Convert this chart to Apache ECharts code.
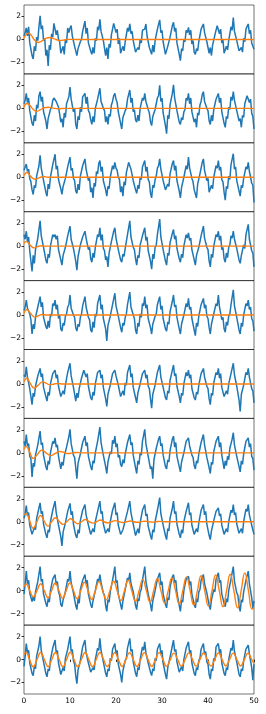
<!DOCTYPE html>
<html><head><meta charset="utf-8">
<script src="https://cdn.jsdelivr.net/npm/echarts@6/dist/echarts.min.js"></script>
<style>html,body{margin:0;padding:0;background:#fff}#c{width:266px;height:714px}</style>
</head><body><div id="c"></div>
<script>
const STEP = 0.25;
const xTicks = [0, 10, 20, 30, 40, 50];
const yTicks = [-2, 0, 2];

const blue1 = [0.3,0.6,
1.0,0.3,1.1,-0.3,-0.2,-1.4,-1.7,-0.6,-1.0,0.2,-0.1,1.1,
2.05,0.9,1.2,-0.1,0.1,-1.4,-0.9,-2.3,-0.5,-0.9,0.5,0.2,1.4,
1.3,0.4,0.8,0.0,-0.2,-1.2,-1.3,-0.6,-1.3,0.0,-0.3,1.0,0.6,
1.0,1.2,0.3,0.2,-0.6,-0.7,-1.4,-0.8,-0.9,-0.2,0.0,0.7,0.8,
1.6,0.5,1.0,-0.3,-0.3,-1.0,-1.3,-0.7,-1.2,0.1,-0.1,1.1,0.8,
1.75,0.7,0.7,-0.1,-0.2,-1.4,-0.7,-1.7,-0.4,-0.7,0.4,0.3,1.4,
1.5,0.6,0.9,-0.4,0.1,-1.2,-1.1,-0.6,-1.0,-0.2,-0.1,1.0,0.7,
1.35,0.5,0.7,-0.1,-0.2,-1.1,-1.1,-0.7,-0.9,0.0,-0.3,0.8,0.8,
0.9,1.35,0.3,0.3,-0.7,-0.6,-1.3,-0.5,-1.1,-0.1,0.0,0.9,1.0,
1.7,0.6,0.8,-0.2,-0.3,-1.3,-1.4,-0.6,-0.7,0.2,0.3,1.2,
1.5,0.7,1.0,-0.3,-0.2,-1.3,-1.85,-0.8,-1.0,0.0,-0.2,0.8,0.6,
1.05,0.4,0.8,-0.4,-0.1,-1.1,-1.3,-0.8,-1.0,-0.2,-0.1,0.9,0.8,
1.35,0.6,0.7,-0.2,-0.3,-1.2,-0.7,-1.4,-0.5,-0.6,0.4,0.4,1.2,
1.2,0.5,0.9,-0.3,0.0,-1.2,-1.1,-0.6,-0.9,-0.1,-0.1,1.1,0.8,
1.9,0.7,0.8,-0.1,-0.1,-1.0,-1.1,-0.7,-1.1,0.1,-0.2,0.9,0.9,
1.35,0.5,0.8,-0.3,-0.2,-0.85];

const blue2 = [0.4,0.7,
1.3,0.5,0.9,-0.2,-0.1,-1.3,-1.5,-0.6,-1.1,0.3,0.0,1.1,
1.45,0.6,1.0,-0.3,-0.3,-1.1,-1.8,-0.9,-0.9,-0.1,0.1,0.7,0.9,
1.0,0.6,0.5,0.1,-0.5,-1.2,-0.9,-1.65,-0.4,-0.8,0.4,0.5,1.0,
1.85,0.8,0.8,-0.3,0.0,-1.4,-1.8,-0.7,-1.0,0.1,-0.3,1.0,1.0,
1.3,0.4,1.0,-0.2,-0.4,-1.0,-1.4,-0.7,-1.2,0.0,0.1,0.8,0.8,
1.75,0.6,0.7,0.0,-0.2,-1.2,-0.7,-1.4,-0.5,-0.7,0.3,0.6,1.1,
1.3,0.8,0.5,-0.3,-0.2,-1.3,-1.8,-0.8,-0.8,-0.2,0.0,0.8,0.9,
1.6,0.5,0.9,-0.3,-0.1,-1.0,-1.2,-0.6,-1.1,0.0,-0.1,0.9,0.7,
1.3,0.6,0.7,-0.1,-0.4,-1.2,-1.5,-0.7,-0.8,-0.1,-0.1,0.9,1.1,
2.0,0.6,0.9,-0.4,-0.3,-1.5,-2.2,-0.6,-0.9,0.3,0.2,1.3,
2.05,0.9,0.9,-0.2,-0.1,-1.2,-1.4,-0.8,-1.0,-0.3,-0.1,0.9,0.7,
1.3,0.4,0.9,-0.3,-0.4,-1.2,-0.9,-1.65,-0.4,-0.6,0.3,0.6,1.2,
1.45,0.6,0.6,0.0,-0.2,-1.1,-1.4,-0.6,-1.1,-0.1,0.0,0.8,0.9,
1.3,0.5,0.9,-0.3,-0.3,-1.3,-1.65,-0.7,-0.9,0.1,-0.1,1.0,0.7,
1.45,0.7,0.7,-0.2,-0.1,-1.1,-0.9,-1.65,-0.6,-0.8,0.4,0.3,1.1,
1.0,0.5,0.8,-0.4,-0.7,-1.8];

const blue3 = [0.6,0.7,
1.15,0.5,0.7,-0.1,-0.4,-1.1,-1.5,-0.7,-0.9,0.1,0.2,1.0,
1.9,0.8,0.8,-0.3,-0.2,-1.3,-1.65,-0.6,-1.0,0.0,-0.1,1.1,1.0,
2.0,0.7,1.0,-0.2,-0.2,-1.0,-1.5,-0.8,-0.9,-0.1,-0.2,0.9,0.8,
1.75,0.6,0.8,-0.1,-0.3,-1.2,-1.4,-0.6,-1.1,0.1,0.0,1.0,0.9,
1.6,0.7,0.7,-0.3,-0.1,-1.3,-0.9,-1.8,-0.5,-0.8,0.5,0.3,1.2,
1.45,0.5,0.9,-0.3,-0.4,-1.1,-1.65,-0.8,-1.0,0.0,-0.1,1.0,0.7,
1.3,0.8,0.6,0.0,-0.2,-1.3,-0.8,-1.65,-0.4,-0.7,0.4,0.4,1.3,
1.0,0.7,0.8,-0.3,-0.3,-1.1,-1.4,-0.7,-1.0,0.0,-0.2,0.9,0.8,
1.45,0.5,0.9,-0.2,-0.4,-1.4,-1.8,-0.7,-0.9,-0.2,0.1,0.8,1.0,
1.6,0.7,0.7,-0.3,-0.2,-1.1,-1.2,-0.6,-0.8,0.3,0.2,1.2,
1.45,0.6,1.0,-0.3,-0.3,-1.2,-1.8,-0.9,-0.9,0.0,0.0,1.0,0.7,
1.75,0.8,0.8,-0.1,-0.4,-1.1,-1.0,-1.8,-0.6,-0.7,0.3,0.4,1.3,
1.6,0.6,0.7,-0.3,-0.1,-1.3,-1.4,-0.7,-1.0,0.0,0.1,1.0,0.8,
1.45,0.6,0.9,-0.2,-0.4,-1.3,-2.0,-0.8,-1.0,0.1,-0.2,1.1,1.0,
2.05,0.7,0.9,-0.3,-0.2,-1.2,-1.65,-0.7,-0.9,-0.1,0.0,0.9,0.7,
1.3,0.5,0.6,-0.5,-0.7,-2.2];

const blue4 = [1.0,0.6,
1.3,0.4,0.8,-0.4,-0.4,-2.2,-0.8,-1.5,-0.3,-0.4,0.7,0.8,
2.2,0.9,0.9,-0.1,-0.2,-1.2,-1.5,-0.7,-1.0,0.0,-0.1,1.0,0.8,
1.0,0.6,0.9,-0.3,-0.3,-1.2,-1.65,-0.8,-0.9,-0.1,-0.1,0.9,0.9,
1.75,0.6,0.7,-0.2,-0.3,-1.3,-2.1,-0.9,-1.0,0.1,0.0,0.8,0.8,
1.3,0.7,0.8,-0.3,-0.1,-1.1,-1.4,-0.6,-1.0,-0.1,-0.1,1.0,0.8,
1.6,0.5,1.0,-0.2,-0.4,-1.2,-0.9,-1.8,-0.6,-0.6,0.4,0.4,1.3,
1.6,0.7,0.7,-0.3,-0.2,-1.2,-1.4,-0.7,-0.9,-0.2,-0.2,1.0,1.0,
2.2,0.8,0.9,-0.1,-0.3,-1.1,-1.65,-0.8,-1.0,0.1,0.0,0.9,0.8,
1.6,0.5,0.8,-0.4,-0.3,-1.3,-2.0,-0.7,-1.1,-0.1,0.1,1.0,1.0,
2.35,0.8,0.9,-0.3,-0.2,-1.3,-1.65,-0.6,-0.8,0.3,0.3,1.1,
1.45,0.6,0.9,-0.2,-0.2,-1.1,-1.4,-0.7,-1.0,0.0,-0.1,1.0,0.7,
1.15,0.5,0.7,-0.3,-0.4,-1.2,-1.65,-0.8,-0.9,-0.1,0.0,0.9,0.9,
1.75,0.7,0.8,-0.1,-0.3,-1.3,-1.8,-0.7,-1.0,0.0,-0.1,1.0,0.8,
1.3,0.5,0.9,-0.3,-0.1,-1.1,-1.4,-0.6,-1.0,-0.1,0.1,0.9,0.7,
1.3,0.6,0.7,-0.2,-0.3,-1.2,-1.5,-0.8,-0.9,0.1,-0.2,1.0,1.0,
1.9,0.6,0.7,-0.4,-0.6,-1.8];

const blue5 = [0.4,0.7,
1.3,0.6,0.5,0.1,-0.4,-1.65,-0.8,-1.2,-0.2,-0.3,0.7,0.7,
1.6,0.7,1.1,-0.2,-0.2,-1.0,-1.2,-0.5,-1.1,0.1,-0.1,1.0,0.8,
1.3,0.5,0.9,-0.3,0.0,-1.2,-1.4,-0.7,-0.9,-0.1,0.1,0.7,0.9,
1.75,0.6,0.7,0.0,-0.2,-1.1,-1.4,-0.8,-1.0,-0.2,0.1,0.8,0.8,
1.6,0.7,0.8,-0.2,-0.4,-1.3,-1.5,-0.6,-1.1,0.1,-0.1,1.0,0.9,
1.75,0.5,0.9,-0.3,-0.3,-1.2,-2.25,-0.9,-1.0,-0.1,0.0,0.9,0.8,
1.9,0.8,0.8,-0.1,-0.2,-1.1,-1.5,-0.7,-0.9,-0.2,0.1,0.9,1.0,
2.0,0.7,0.7,0.0,-0.3,-1.3,-1.65,-0.7,-1.0,0.1,-0.2,1.0,0.8,
1.6,0.6,0.9,-0.3,-0.4,-1.1,-1.65,-0.8,-0.9,-0.1,0.1,0.9,0.9,
1.6,0.5,0.8,-0.3,-0.3,-1.2,-1.4,-0.6,-0.8,0.3,0.2,1.2,
1.75,0.7,0.9,-0.2,-0.2,-1.2,-1.65,-0.8,-0.9,0.0,0.0,1.0,0.7,
1.45,0.5,0.7,-0.3,-0.4,-1.3,-1.8,-0.7,-1.0,-0.1,-0.1,0.9,0.9,
1.45,0.6,0.9,-0.1,-0.3,-1.1,-1.65,-0.8,-0.9,0.1,0.0,1.0,0.8,
1.75,0.7,0.8,-0.4,-0.2,-1.2,-1.5,-0.6,-0.9,-0.1,0.1,0.9,1.0,
2.2,0.8,0.8,-0.2,-0.3,-1.3,-1.65,-0.7,-1.0,0.0,-0.1,1.0,0.8,
1.3,0.5,0.7,-0.3,-0.5,-1.4];

const blue6 = [0.8,0.6,
1.5,0.6,0.7,-0.4,-0.4,-1.8,-0.8,-1.1,-0.2,-0.3,0.7,0.7,
1.35,0.6,0.9,-0.3,-0.2,-1.1,-1.5,-0.7,-1.0,0.0,0.0,0.9,0.8,
1.2,0.5,0.8,-0.2,-0.3,-1.1,-1.25,-0.6,-0.9,-0.1,-0.1,1.0,0.9,
1.8,0.7,0.7,-0.3,-0.4,-1.5,-0.8,-1.2,-0.4,-0.5,0.5,0.4,1.2,
1.35,0.6,0.9,-0.2,-0.2,-1.2,-1.4,-0.7,-1.0,0.0,-0.1,1.0,0.9,
1.2,0.5,0.8,-0.3,-0.3,-1.3,-1.95,-0.9,-0.9,-0.1,0.0,0.9,0.8,
1.2,0.7,0.7,-0.1,-0.2,-1.1,-1.25,-0.6,-1.0,0.1,-0.1,1.0,1.0,
1.65,0.6,0.9,-0.3,-0.3,-1.2,-1.65,-0.8,-0.9,0.0,0.1,0.9,0.8,
1.2,0.5,0.8,-0.2,-0.4,-1.3,-2.1,-0.9,-1.0,-0.1,-0.2,1.0,0.9,
1.65,0.6,0.7,-0.3,-0.3,-1.2,-1.4,-0.6,-0.8,0.3,0.3,1.2,
1.65,0.7,0.9,-0.2,-0.2,-1.1,-1.65,-0.8,-1.0,0.0,0.0,1.0,0.7,
1.2,0.5,0.8,-0.4,-0.3,-1.2,-1.4,-0.7,-0.9,-0.1,-0.1,0.9,0.9,
1.35,0.6,0.7,-0.2,-0.4,-1.3,-1.8,-0.8,-1.0,0.1,0.1,1.0,0.8,
1.35,0.5,0.9,-0.3,-0.2,-1.1,-1.25,-0.6,-0.9,0.0,-0.1,0.9,1.0,
1.8,0.8,0.8,-0.2,-0.3,-1.4,-2.4,-0.9,-1.0,-0.1,0.0,1.0,0.8,
1.35,0.6,0.7,-0.4,-0.6,-1.65];

const blue7 = [1.0,0.6,
1.6,0.6,0.8,-0.3,-0.5,-2.1,-0.9,-1.2,-0.2,-0.3,0.7,0.8,
1.9,0.7,0.9,-0.2,-0.2,-1.2,-1.5,-0.7,-1.0,0.0,0.0,1.0,0.8,
1.3,0.5,0.7,-0.3,-0.3,-1.4,-0.8,-1.1,-0.3,-0.4,0.5,0.6,1.4,
2.05,0.8,0.8,-0.2,-0.4,-1.3,-2.25,-0.9,-1.0,-0.1,-0.1,0.9,0.8,
1.45,0.6,0.9,-0.3,-0.2,-1.2,-1.5,-0.7,-0.9,0.0,0.0,1.0,0.9,
2.25,0.9,0.8,-0.2,-0.3,-1.2,-1.8,-0.8,-0.9,0.1,-0.1,1.1,0.8,
1.45,0.5,0.8,-0.4,-0.2,-1.0,-1.2,-0.6,-0.9,-0.1,0.0,0.9,0.9,
1.6,0.7,0.9,-0.2,-0.3,-1.3,-1.8,-0.7,-1.0,0.0,-0.2,1.0,1.0,
2.05,0.8,0.7,-0.3,-0.4,-1.4,-1.2,-2.25,-0.6,-0.7,0.4,0.4,1.2,
1.45,0.6,0.8,-0.2,-0.3,-1.2,-1.4,-0.6,-0.8,0.2,0.3,1.2,
1.45,0.5,0.9,-0.3,-0.2,-1.2,-1.65,-0.8,-0.9,0.0,0.0,1.0,0.9,
1.3,0.6,0.7,-0.2,-0.4,-1.1,-1.4,-0.7,-0.9,-0.1,-0.1,0.9,0.8,
1.6,0.7,0.8,-0.4,-0.3,-1.3,-1.8,-0.8,-1.0,0.1,0.1,1.0,1.0,
1.45,0.5,0.9,-0.2,-0.2,-1.4,-0.7,-1.1,-0.3,-0.6,0.4,0.4,1.2,
1.75,0.7,0.8,-0.3,-0.3,-1.2,-1.65,-0.7,-1.0,-0.1,0.0,1.0,0.9,
1.3,0.5,0.8,-0.3,-0.5,-1.5];

const blue8 = [0.3,0.7,
1.4,0.5,0.8,-0.3,-0.3,-1.1,-1.1,-0.5,-0.7,0.3,0.2,1.2,
1.65,0.7,0.9,-0.2,-0.2,-1.1,-1.4,-0.7,-0.9,0.0,0.0,1.0,0.9,
1.8,0.8,0.8,-0.3,-0.4,-1.3,-2.1,-0.9,-0.9,-0.1,-0.1,0.9,0.8,
1.6,0.6,0.9,-0.2,-0.2,-1.2,-1.4,-0.7,-1.0,0.1,0.1,1.0,0.9,
1.5,0.6,0.7,-0.3,-0.3,-1.1,-1.25,-0.6,-0.9,0.0,0.0,0.9,0.8,
1.8,0.7,0.9,-0.2,-0.2,-1.0,-1.1,-0.6,-0.9,0.0,-0.1,1.0,1.0,
1.65,0.6,0.8,-0.3,-0.3,-1.1,-1.25,-0.7,-0.8,0.1,0.1,0.9,0.8,
1.8,0.8,0.9,-0.2,-0.2,-1.2,-1.25,-0.6,-1.0,-0.1,0.0,1.0,0.9,
1.5,0.5,0.7,-0.4,-0.4,-1.2,-1.55,-0.7,-0.9,0.0,-0.1,1.0,1.0,
2.1,0.7,0.8,-0.3,-0.3,-1.2,-1.55,-0.6,-0.8,0.3,0.3,1.2,
1.8,0.7,0.9,-0.2,-0.2,-1.1,-1.4,-0.7,-1.0,0.0,0.0,0.9,0.8,
1.65,0.6,0.8,-0.3,-0.3,-1.1,-1.25,-0.6,-0.9,-0.1,-0.1,1.0,0.9,
1.5,0.6,0.9,-0.2,-0.3,-1.2,-1.55,-0.8,-0.9,0.1,0.0,0.9,0.8,
1.2,0.5,0.7,-0.3,-0.2,-1.1,-1.25,-0.6,-0.9,0.0,0.1,1.0,0.8,
1.5,0.6,0.8,-0.2,-0.2,-1.0,-1.1,-0.6,-1.0,0.0,-0.1,1.1,0.9,
1.5,0.6,0.7,-0.3,-0.4,-1.1];

const blue9 = [-0.3,0.6,
1.7,0.6,0.9,-0.2,-0.3,-0.95,-0.5,-0.9,-0.1,-0.2,0.8,0.8,
2.1,0.8,1.0,-0.3,-0.2,-1.1,-1.4,-0.7,-1.0,0.0,0.0,1.0,1.0,
1.4,0.5,0.8,-0.1,-0.4,-1.2,-1.4,-0.8,-0.9,-0.1,-0.1,1.0,0.8,
1.7,0.7,0.7,-0.2,-0.3,-1.3,-1.65,-0.7,-1.1,0.1,0.1,0.9,0.9,
1.4,0.6,0.9,-0.3,-0.2,-1.2,-1.5,-0.9,-1.0,0.0,0.0,1.0,0.8,
1.4,0.7,0.8,-0.2,-0.4,-1.3,-1.8,-0.8,-1.0,-0.1,-0.1,0.9,1.0,
2.1,0.7,0.9,-0.3,-0.3,-1.2,-1.65,-0.9,-1.0,0.1,0.0,1.1,0.9,
1.55,0.6,0.7,-0.1,-0.2,-1.3,-1.65,-0.7,-0.9,-0.1,0.1,0.9,0.8,
2.1,0.8,0.9,-0.3,-0.4,-1.2,-1.8,-0.9,-1.0,0.0,-0.1,1.0,1.0,
1.55,0.5,0.8,-0.3,-0.4,-1.2,-1.5,-0.6,-0.8,0.3,0.3,1.2,
1.4,0.7,0.9,-0.2,-0.3,-1.3,-1.8,-0.8,-1.0,0.0,0.0,1.0,0.9,
1.25,0.5,0.8,-0.3,-0.4,-1.2,-1.5,-0.7,-1.0,-0.1,0.1,0.9,0.8,
1.4,0.6,0.7,-0.2,-0.3,-1.3,-1.65,-0.8,-0.9,0.1,-0.1,1.0,0.9,
1.55,0.7,0.9,-0.3,-0.2,-1.1,-1.4,-0.7,-1.0,0.0,0.0,1.0,1.0,
2.1,0.8,0.8,-0.2,-0.4,-1.4,-1.8,-0.8,-1.0,-0.1,0.0,0.9,0.8,
1.7,0.6,0.6,-0.6,-1.5,-0.9];

const blue10 = [-0.6,0.3,
1.4,0.6,0.8,-0.3,-0.4,-1.2,-1.4,-0.6,-0.8,0.3,0.2,1.2,
2.0,0.8,0.9,-0.2,-0.3,-1.2,-1.5,-0.8,-1.0,0.0,0.0,1.0,0.9,
1.7,0.6,0.8,-0.3,-0.2,-1.3,-1.4,-0.7,-1.0,0.1,0.1,0.9,0.8,
2.0,0.7,0.9,-0.1,-0.4,-1.4,-2.1,-0.9,-0.9,-0.1,-0.1,1.1,1.0,
1.7,0.6,0.7,-0.3,-0.3,-1.1,-1.25,-0.7,-0.9,0.0,0.0,1.0,0.8,
1.85,0.8,0.9,-0.2,-0.2,-1.2,-1.5,-0.8,-1.0,0.1,-0.1,0.9,0.9,
1.4,0.5,0.8,-0.4,-0.4,-1.3,-2.0,-1.0,-0.9,-0.1,0.1,1.0,1.0,
1.85,0.7,0.9,-0.2,-0.3,-1.2,-1.5,-0.7,-0.9,0.0,0.0,1.1,0.8,
1.55,0.6,0.7,-0.3,-0.2,-1.1,-1.4,-0.8,-1.0,0.1,-0.1,0.9,0.9,
1.4,0.5,0.8,-0.3,-0.4,-1.3,-1.7,-0.7,-0.8,0.2,0.3,1.2,
1.7,0.7,0.9,-0.2,-0.3,-1.1,-1.25,-0.6,-1.0,0.0,0.0,1.0,0.9,
1.55,0.6,0.8,-0.3,-0.2,-1.2,-1.4,-0.7,-0.9,-0.1,0.1,0.9,0.8,
1.4,0.5,0.7,-0.2,-0.4,-1.3,-1.7,-0.8,-1.0,0.1,-0.1,1.1,1.0,
1.4,0.6,0.9,-0.3,-0.3,-1.2,-1.4,-0.7,-0.9,0.0,0.0,1.0,0.8,
1.7,0.7,0.8,-0.2,-0.2,-1.3,-1.5,-0.8,-1.0,-0.1,0.0,0.9,0.9,
1.25,0.5,0.5,-0.7,-1.8,-0.4];

const orange1 = [[0,0.1],[0.4,0.4],[0.95,0.55],[1.6,0.35],[2.2,0.0],[3.1,-0.26],[4.0,-0.1],[4.6,0.05],[5.6,0.17],[6.6,0.05],[7.8,-0.09],[9,-0.02],[10,0.01],[11,0],[50,0]];
const orange2 = [[0,0.1],[0.6,0.42],[1.4,0.2],[2.0,-0.1],[2.75,-0.25],[3.6,-0.12],[4.4,0.05],[5.3,0.1],[6.3,0.02],[7.5,-0.03],[9,0],[50,0]];
const orange3 = [[0,0.15],[0.6,0.42],[1.4,0.1],[2.4,-0.18],[3.3,-0.05],[4.2,0.06],[5.2,0],[50,0]];
const orange4 = [[0,0.2],[0.45,0.42],[1.2,0.15],[2.2,-0.15],[3.0,-0.03],[3.6,0.02],[4.5,0],[50,0]];
const orange5 = [[0,0.15],[0.6,0.48],[1.4,0.15],[2.4,-0.18],[3.2,-0.05],[3.9,0.05],[5,0],[50,0]];
const orange6 = [[0,0.2],[0.6,0.5],[1.3,0.1],[2.2,-0.36],[3.1,-0.1],[4.05,0.18],[4.9,0.05],[5.65,-0.08],[6.6,0],[7.3,0.03],[8.5,0],[50,0]];
const orange7 = [[0,0.3],[0.45,0.57],[1.2,0.1],[2.0,-0.48],[2.9,-0.15],[3.85,0.24],[4.8,0],[5.8,-0.24],[6.8,-0.05],[7.8,0.12],[8.7,0.03],[9.6,-0.06],[10.5,0],[11.5,0.03],[12.5,0],[50,0]];
const orange8 = [[0,0.6],[0.45,0.73],[1.2,0.1],[2.0,-0.58],[2.8,0],[3.6,0.55],[4.4,0.05],[5.2,-0.38],[6.0,0],[6.85,0.35],[7.7,0.02],[8.5,-0.23],[9.3,0],[10.1,0.26],[10.9,0.03],[11.7,-0.17],[12.5,0],[13.35,0.2],[14.2,0],[15.0,-0.12],[15.8,0],[16.6,0.15],[17.4,0],[18.2,-0.09],[19.0,0],[19.85,0.1],[20.7,0],[21.5,-0.07],[22.3,0],[23.1,0.07],[23.9,0],[24.7,-0.05],[25.5,0],[26.35,0.05],[27.2,0],[28.0,-0.03],[28.8,0],[29.6,0.03],[30.5,0],[50,0]];
const orange9 = [[0,0.36],
[0.45,0.58],[1.24,0],[2.04,-0.55],[2.83,0],
[3.62,0.6],[4.41,0],[5.21,-0.62],[6.0,0],
[6.79,0.67],[7.58,0],[8.38,-0.65],[9.17,0],
[9.96,0.67],[10.75,0],[11.55,-0.7],[12.34,0],
[13.13,0.73],[13.92,0],[14.72,-0.75],[15.51,0],
[16.3,0.79],[17.09,0],[17.89,-0.8],[18.68,0],
[19.47,0.82],[20.26,0],[21.06,-0.86],[21.85,0],
[22.64,0.9],[23.43,0],[24.23,-0.93],[25.02,0],
[25.81,0.96],[26.6,0],[27.4,-1.0],[28.19,0],
[28.98,1.05],[29.77,0],[30.57,-1.07],[31.36,0],
[32.15,1.1],[32.94,0],[33.74,-1.15],[34.53,0],
[35.32,1.2],[36.11,0],[36.91,-1.25],[37.7,0],
[38.49,1.3],[39.28,0],[40.08,-1.33],[40.87,0],
[41.66,1.37],[42.45,0],[43.25,-1.4],[44.04,0],
[44.83,1.43],[45.62,0],[46.42,-1.5],[47.21,0],
[48.0,1.55],[48.79,0],[49.59,-1.6],[50,-1.5]];
const orange10 = [[0,0.44],
[0.4,0.65],[1.2,0],[2.01,-0.63],[2.82,0],
[3.62,0.62],[4.43,0],[5.23,-0.62],[6.04,0],
[6.84,0.62],[7.65,0],[8.45,-0.62],[9.26,0],
[10.06,0.63],[10.87,0],[11.67,-0.62],[12.48,0],
[13.28,0.62],[14.09,0],[14.89,-0.62],[15.7,0],
[16.5,0.62],[17.31,0],[18.11,-0.61],[18.92,0],
[19.72,0.6],[20.53,0],[21.33,-0.6],[22.14,0],
[22.94,0.6],[23.75,0],[24.55,-0.6],[25.36,0],
[26.16,0.6],[26.97,0],[27.77,-0.6],[28.58,0],
[29.38,0.6],[30.19,0],[30.99,-0.59],[31.8,0],
[32.6,0.58],[33.41,0],[34.21,-0.58],[35.02,0],
[35.82,0.58],[36.63,0],[37.43,-0.58],[38.24,0],
[39.04,0.57],[39.85,0],[40.65,-0.57],[41.46,0],
[42.26,0.57],[43.07,0],[43.87,-0.56],[44.68,0],
[45.48,0.56],[46.29,0],[47.09,-0.56],[47.9,0],
[48.7,0.55],[49.51,0],[50,-0.35]];

const blues = [blue1,blue2,blue3,blue4,blue5,blue6,blue7,blue8,blue9,blue10];
const oranges = [orange1,orange2,orange3,orange4,orange5,orange6,orange7,orange8,orange9,orange10];

const N = 10, TOP = 5, H = 68.9, LEFT = 24, RIGHT = 12;
const FONT = 'DejaVu Sans';
const grid = [], xAxis = [], yAxis = [], series = [];
for (let k = 0; k < N; k++) {
  const last = k === N - 1;
  grid.push({left: LEFT, right: RIGHT, top: TOP + H * k, height: H, show: true,
    borderColor: 'rgba(0,0,0,0.55)', borderWidth: 1, backgroundColor: 'transparent'});
  xAxis.push({type: 'value', gridIndex: k, min: 0, max: 50, interval: 10,
    axisLine: {show: false}, splitLine: {show: false},
    axisTick: {show: last, length: 2.5, lineStyle: {color: '#000', width: 0.8}},
    axisLabel: {show: last, customValues: xTicks, fontSize: 7.5, color: '#000', margin: 3, fontFamily: FONT}});
  yAxis.push({type: 'value', gridIndex: k, min: -3, max: 3,
    axisLine: {show: false}, splitLine: {show: false},
    axisTick: {show: true, customValues: yTicks, length: 2.5, lineStyle: {color: '#000', width: 0.8}},
    axisLabel: {show: true, customValues: yTicks, fontSize: 7.5, color: '#000', margin: 3, fontFamily: FONT,
      formatter: v => String(v).replace('-', '\u2212')}});
  series.push({type: 'line', xAxisIndex: k, yAxisIndex: k, showSymbol: false, silent: true,
    data: blues[k].map((v, i) => [i * STEP, v]),
    lineStyle: {color: '#1f77b4', width: 1.5}, z: 2});
  series.push({type: 'line', xAxisIndex: k, yAxisIndex: k, showSymbol: false, silent: true, smooth: true,
    data: oranges[k], lineStyle: {color: '#ff7f0e', width: 1.4}, z: 3});
}
const chart = echarts.init(document.getElementById('c'), null, {renderer: 'canvas'});
chart.setOption({animation: false, grid, xAxis, yAxis, series});
</script></body></html>
